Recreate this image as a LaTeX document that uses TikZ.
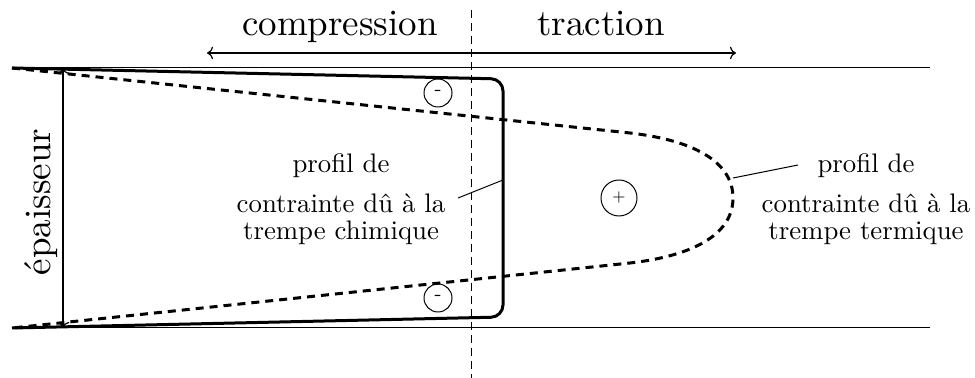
\documentclass[tikz,border=0pt]{standalone}
\usepackage{fontspec}
\setmainfont{lmroman10-regular.otf}
\usetikzlibrary{arrows.meta}
\begin{document}
\begin{tikzpicture}[x=0.5pt,y=-0.5pt,
  thinline/.style={line width=0.5pt},
  profile/.style={line width=1.5pt},
  dprofile/.style={line width=1.5pt, dash pattern=on 4pt off 3pt},
  axisdash/.style={line width=0.5pt, dash pattern=on 4pt off 2.5pt},
  bigtxt/.style={font=\fontsize{18.5}{22}\selectfont, inner sep=0pt},
  smalltxt/.style={font=\fontsize{13.4}{13.5}\selectfont, align=center, inner sep=0pt},
  sign/.style={circle, draw, line width=0.5pt, inner sep=0pt},
  leader/.style={line width=0.5pt},
  dimarrow/.style={line width=0.6pt, {To[length=3pt]}-{To[length=3pt]}}
]
\useasboundingbox (0,0) rectangle (975,378);
% faces of the glass
\coordinate (tl) at (12,68);
\coordinate (tr) at (930,68);
\coordinate (bl) at (12,328);
\coordinate (br) at (930,328);
\draw[thinline] (tl) -- (tr);
\draw[thinline] (bl) -- (br);
% neutral axis
\coordinate (atop) at (471,10);
\coordinate (abot) at (471,378);
\draw[axisdash] (atop) -- (abot);
% thermal profile
\draw[dprofile] (tl) -- (630,133) .. controls (700,141) and (733,165) .. (733,198)
  .. controls (733,231) and (700,255) .. (630,263) -- (bl);
% chemical profile
\draw[profile, rounded corners=6pt] (tl) -- (503,79) -- (503,317) -- (bl);
% thickness
\coordinate (et) at (63,68);
\coordinate (eb) at (63,328);
\draw[dimarrow] (et) -- (eb);
\node[bigtxt, rotate=90, anchor=base] (ep) at (50,202) {épaisseur};
% compression / traction
\coordinate (al) at (207,53);
\coordinate (ar) at (736,53);
\draw[dimarrow] (al) -- (ar);
\node[bigtxt, anchor=base] (comp) at (340,36) {compression};
\node[bigtxt, anchor=base] (trac) at (601,36) {traction};
% signs
\node[sign, minimum size=14pt, font=\fontsize{10.5}{10.5}\selectfont] (m1) at (438,93) {-};
\node[sign, minimum size=14pt, font=\fontsize{10.5}{10.5}\selectfont] (m2) at (438,298) {-};
\node[sign, minimum size=18pt, font=\fontsize{8.5}{8.5}\selectfont] (p1) at (619,198) {$+$};
% labels
\node[smalltxt, anchor=north] (chim) at (341,153) {profil de\\[6.5pt]contrainte dû à la\\trempe chimique};
\node[smalltxt, anchor=north] (term) at (866,153) {profil de\\[6.5pt]contrainte dû à la\\trempe termique};
\coordinate (chimstart) at (458,198);
\coordinate (chimpt) at (503,180);
\draw[leader] (chimstart) -- (chimpt);
\coordinate (termstart) at (798,165);
\coordinate (termpt) at (733,178);
\draw[leader] (termstart) -- (termpt);
\end{tikzpicture}
\end{document}
